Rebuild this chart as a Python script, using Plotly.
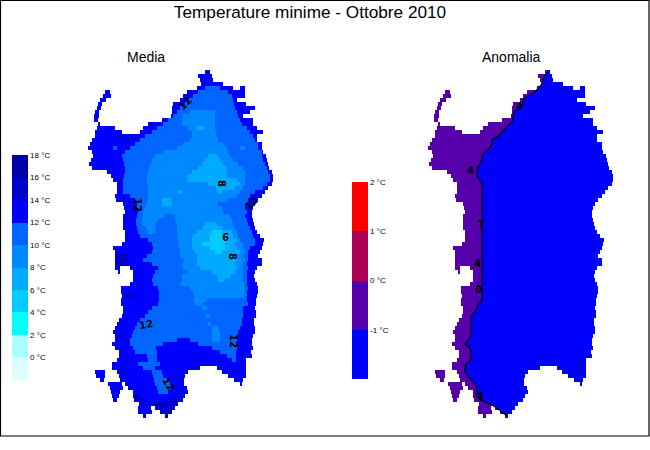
import numpy as np
import plotly.graph_objects as go

# grid of the two maps: one row every 4 px, breakpoints along the row
# "x value x value ... x", value = centre of the class, "-" = sea
first_row = 72
row_step = 4
first_col = 85
last_col = 280

media_rows = [
    "205 13 210",
    "198 13 212",
    "200 13 213",
    "201 13 223",
    "197 13 205 11 220 13 233 - 240 13 245",
    "105 13 110 - 187 13 198 11 228 13 245",
    "103 13 111 - 183 13 193 11 232 13 245",
    "100 13 106 - 180 13 188 11 233 13 237",
    "98 13 102 - 173 13 185 11 234 13 246",
    "97 13 101 - 172 13 180 11 235 13 255",
    "95 13 99 - 172 13 177 11 190 9 215 11 237 13 250",
    "94 13 99 - 171 13 173 11 183 9 215 11 238 13 243",
    "94 13 98 - 162 13 168 11 182 9 215 11 240 13 253",
    "98 13 100 - 148 13 163 11 182 9 215 11 242 13 253",
    "97 13 115 - 143 13 157 11 188 9 197 7 205 9 215 11 247 13 257",
    "95 13 122 - 140 13 152 11 192 9 216 11 250 13 263",
    "95 13 145 11 192 9 217 11 253 13 257",
    "92 13 140 11 190 9 218 11 255 13 257",
    "90 13 135 11 183 9 223 11 258 13 262",
    "88 13 113 11 117 13 130 11 177 9 227 11 240 9 245 11 258 13 262",
    "92 13 125 11 163 9 228 11 262 13 263",
    "93 13 122 11 155 9 208 7 218 9 230 11 262 13 266",
    "91 13 123 11 152 9 205 7 220 9 233 11 263 13 267",
    "89 13 124 11 151 9 202 7 223 9 238 11 265 13 268",
    "92 13 125 11 149 9 198 7 226 9 243 11 267 13 269",
    "107 13 125 11 148 9 192 7 227 9 245 11 268 13 272",
    "111 13 124 11 147 9 187 7 227 9 245 11 270 13 273",
    "113 13 123 11 147 9 187 7 237 9 245 11 270 13 273",
    "117 13 123 11 147 9 207 7 240 9 245 11 267 13 272",
    "117 13 123 11 148 9 216 7 235 9 243 11 263 13 268",
    "117 13 123 11 148 9 178 7 183 9 217 7 222 9 240 11 255 13 265",
    "115 13 130 11 148 9 237 11 250 13 262",
    "116 13 135 11 148 9 162 7 172 9 227 11 248 13 258",
    "123 13 137 11 146 9 162 7 172 9 218 11 247 13 255",
    "124 13 137 11 145 9 222 11 245 13 253",
    "125 13 138 11 143 9 223 11 247 13 252",
    "123 13 137 11 143 9 165 11 175 9 230 11 245 13 252",
    "123 13 136 11 142 9 158 11 175 9 232 11 247 13 253",
    "123 13 136 11 142 9 156 11 177 9 205 7 217 9 233 11 248 13 254",
    "123 13 137 11 147 9 155 11 177 9 203 7 223 9 235 11 250 13 255",
    "125 13 138 11 148 9 155 11 177 9 197 7 212 5 222 7 232 9 237 11 252 13 257",
    "125 13 140 11 177 9 193 7 210 5 227 7 233 9 238 11 253 13 260",
    "125 13 148 11 178 9 192 7 210 5 228 7 237 9 240 11 255 13 264",
    "122 13 152 11 178 9 192 7 202 5 225 7 235 9 243 11 255 13 263",
    "113 13 153 11 179 9 193 7 210 5 225 7 237 9 243 11 250 13 262",
    "115 13 152 11 180 9 195 7 215 5 222 7 240 9 245 11 248 13 260",
    "115 15 128 13 147 11 180 9 197 7 237 9 243 11 248 13 258",
    "115 15 128 13 143 11 183 9 197 7 237 9 245 11 248 13 262",
    "115 15 128 13 152 11 183 9 197 7 235 9 243 11 247 13 262",
    "115 13 120 - 130 13 158 11 183 9 200 7 237 9 243 11 248 13 257",
    "118 13 120 - 133 13 155 11 187 9 212 7 235 9 243 11 247 13 255",
    "133 13 153 11 182 9 217 7 230 9 243 11 247 13 254",
    "133 13 152 11 182 9 218 7 225 9 243 11 247 13 255",
    "130 13 153 11 180 9 245 11 247 13 257",
    "121 13 158 11 190 9 245 11 248 13 258",
    "121 13 159 11 193 9 245 11 247 13 258",
    "122 15 133 13 159 11 194 9 245 11 247 13 257",
    "121 13 159 11 194 9 207 11 247 13 256",
    "121 13 158 11 195 9 203 11 248 13 256",
    "123 13 152 11 202 9 207 11 243 13 255",
    "123 13 148 11 243 13 256",
    "122 13 145 11 206 9 210 11 243 13 256",
    "119 13 140 11 242 13 254",
    "117 13 137 11 208 9 211 11 242 13 254",
    "115 13 135 11 212 9 218 11 240 13 255",
    "113 13 133 11 212 9 220 11 238 13 255",
    "115 13 132 11 212 9 220 11 237 13 253",
    "115 13 130 11 177 13 190 11 212 9 220 11 237 13 252",
    "112 13 130 11 163 13 198 11 237 13 252",
    "115 13 133 11 156 13 212 11 237 13 253",
    "119 13 135 11 157 13 220 11 236 13 251",
    "119 13 147 11 157 13 227 11 236 13 252",
    "117 13 148 11 157 13 232 11 236 13 246",
    "112 13 138 11 160 13 246",
    "112 13 143 11 155 13 200 - 217 13 246",
    "95 13 105 - 117 13 152 11 162 13 188 - 222 13 246",
    "96 13 105 - 119 13 153 11 163 13 185 - 228 13 246",
    "100 13 104 - 120 13 154 11 167 13 184 - 234 13 243",
    "108 13 122 - 125 13 155 11 170 13 184 - 240 13 242",
    "110 13 123 - 128 13 157 11 171 13 187",
    "111 13 120 - 133 13 158 11 168 13 188",
    "112 13 119 - 133 15 140 13 185",
    "113 13 117 - 134 15 145 13 170 15 183",
    "139 13 150 15 178",
    "138 13 151 - 155 15 175",
    "138 13 152 - 160 15 172",
    "143 13 146 - 165 15 168",
]

# position of the -1 degree line along each row, same columns as media_rows
anomaly_line = [
    207, 205, 203, 202, 198, 195, 188, 183, 183, 178, 174, 173, 173, 170, 166, 162,
    158, 152, 152, 150, 145, 142, 142, 140, 137, 137, 137, 140,
    142, 142, 142, 142, 142, 142, 142, 142, 142, 142, 142, 142, 142, 142, 142,
    142, 142, 142, 142, 142, 142, 142, 142, 142, 142, 142, 142, 142, 142, 142,
    138, 137, 135, 131, 131, 131, 131, 131, 131, 128, 125, 130, 131, 131, 131,
    126, 125, 125, 128, 131, 135, 137, 137, 137, 140, 150, 157, 162, 167,
]
anomaly_inside = -0.5
anomaly_outside = -1.5

media_colors = ["#ddffff", "#aaffff", "#00ffff", "#00ccff", "#00aaff",
                "#0088ff", "#0066ff", "#0000ff", "#0000cc", "#0000aa"]
media_ticks = [0, 2, 4, 6, 8, 10, 12, 14, 16, 18]
anomaly_colors = ["#0000ff", "#5500aa", "#aa0055", "#ff0000"]
anomaly_ticks = [-1, 0, 1, 2]

# contour labels: text, lon, row, rotation
media_labels = [
    ("12", 185, 103, -45), ("12", 138, 205, 90), ("8", 222, 183, 90),
    ("12", 251, 203, -45), ("6", 225, 237, 0), ("8", 233, 256, 90),
    ("12", 146, 324, -10), ("12", 234, 341, 90), ("12", 169, 384, 60),
]
anomaly_labels = [
    ("4", 470, 170, 0), ("T", 481, 224, 0), ("4", 477, 263, 0),
    ("0", 478, 289, 0), ("4", 519, 106, 0), ("4", 480, 396, 0),
]


def parse_row(row):
    cells = np.full(last_col - first_col, np.nan)
    tok = row.split()
    for i in range(0, len(tok) - 1, 2):
        if tok[i + 1] != "-":
            cells[int(tok[i]) - first_col:int(tok[i + 2]) - first_col] = float(tok[i + 1])
    return cells


def stepped(colors):
    scale = []
    for i, c in enumerate(colors):
        scale += [[i / len(colors), c], [(i + 1) / len(colors), c]]
    return scale


media = np.array([parse_row(r) for r in media_rows])
cols = np.arange(first_col, last_col) + 0.5
rows = first_row + row_step * np.arange(len(media_rows))

# anomaly map has the same coast, only two classes either side of the line
anomaly = np.where(cols[None, :] < np.array(anomaly_line)[:, None], anomaly_inside, anomaly_outside)
anomaly = np.where(np.isnan(media), np.nan, anomaly)

shift = 340
fig = go.Figure()
fig.add_trace(go.Heatmap(
    x=cols, y=rows, z=media, zmin=-2, zmax=18, colorscale=stepped(media_colors),
    hoverongaps=False,
    colorbar=dict(x=12 / 650, xanchor="left", xpad=0, y=1 - 155 / 450, yanchor="top", ypad=0,
                  thickness=16, len=225 / 450, outlinewidth=0, ticks="", ticklen=0,
                  tickvals=media_ticks, ticktext=[f"{t} °C" for t in media_ticks],
                  tickfont=dict(size=8, color="black")),
))
fig.add_trace(go.Heatmap(
    x=cols + shift, y=rows, z=anomaly, zmin=-2, zmax=2, colorscale=stepped(anomaly_colors),
    hoverongaps=False,
    colorbar=dict(x=352 / 650, xanchor="left", xpad=0, y=1 - 182 / 450, yanchor="top", ypad=0,
                  thickness=16, len=197 / 450, outlinewidth=0, ticks="", ticklen=0,
                  tickvals=anomaly_ticks, ticktext=[f"{t} °C" for t in anomaly_ticks],
                  tickfont=dict(size=8, color="black")),
))
fig.add_trace(go.Scatter(
    x=np.array(anomaly_line) + shift, y=rows, mode="lines",
    line=dict(color="black", width=1.2), showlegend=False, hoverinfo="skip",
))

for text, x, y, rot in media_labels + anomaly_labels:
    fig.add_annotation(x=x, y=y, text=text, showarrow=False, textangle=rot,
                       font=dict(size=10, color="black", family="DejaVu Sans", weight="bold"))
for text, x in [("Media", 146), ("Anomalia", 511)]:
    fig.add_annotation(x=x, y=57, text=text, showarrow=False,
                       font=dict(size=14, color="black"))

fig.add_shape(type="rect", x0=0.5, y0=0.5, x1=649, y1=436, line=dict(color="black", width=1.2))

fig.update_layout(
    width=650, height=450, margin=dict(l=0, r=0, t=0, b=0), showlegend=False,
    paper_bgcolor="white", plot_bgcolor="white",
    font=dict(family="Liberation Sans"),
    title=dict(text="Temperature minime - Ottobre 2010", x=310 / 650, xanchor="center",
               y=1 - 12 / 450, yanchor="middle", font=dict(size=17.2, color="black")),
    xaxis=dict(range=[0, 650], visible=False),
    yaxis=dict(range=[450, 0], visible=False),
)

# the page's default body margin would push the figure 8 px in
fig.write_html("out.html", config={"displayModeBar": False},
               post_script="document.body.style.margin = '0';")
